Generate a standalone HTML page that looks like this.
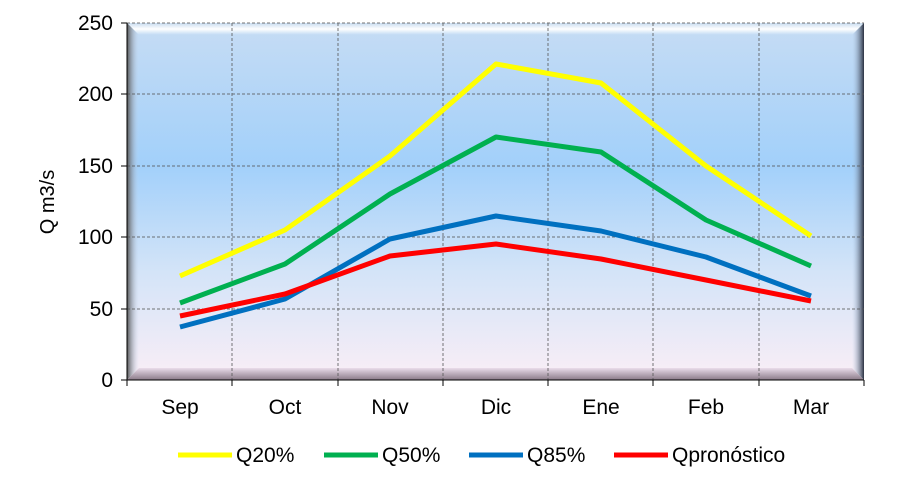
<!DOCTYPE html><html><head><style>body{margin:0;background:#fff}svg{display:block;font-family:"Liberation Sans",Arial,sans-serif}</style></head><body>
<svg width="907" height="487" viewBox="0 0 907 487">
<defs>
<linearGradient id="bg" x1="0" y1="0" x2="0" y2="1">
<stop offset="0" stop-color="#c6dcf4"/><stop offset="0.4" stop-color="#a2d0fa"/><stop offset="0.7" stop-color="#d4e4f8"/><stop offset="1" stop-color="#faeef6"/></linearGradient>
<linearGradient id="lw" x1="0" y1="0" x2="1" y2="0"><stop offset="0" stop-color="#555"/><stop offset="1" stop-color="#c8d8ee" stop-opacity="0"/></linearGradient>
<linearGradient id="rw" x1="0" y1="0" x2="1" y2="0"><stop offset="0" stop-color="#b0c8e4" stop-opacity="0"/><stop offset="1" stop-color="#2a3040"/></linearGradient>
<linearGradient id="tw" x1="0" y1="0" x2="0" y2="1"><stop offset="0" stop-color="#c8dcf0"/><stop offset="0.5" stop-color="#ffffff"/><stop offset="1" stop-color="#c0daf4"/></linearGradient>
<linearGradient id="bw" x1="0" y1="0" x2="0" y2="1"><stop offset="0" stop-color="#eadcea"/><stop offset="1" stop-color="#8a7a88"/></linearGradient>
</defs>
<rect x="127" y="23" width="737" height="357" fill="url(#bg)"/>
<polygon points="127,23 864,23 852,35 139,35" fill="url(#tw)"/>
<polygon points="127,23 139,35 139,368 127,380" fill="url(#lw)"/>
<polygon points="864,23 852,35 852,368 864,380" fill="url(#rw)"/>
<polygon points="127,380 139,368 852,368 864,380" fill="url(#bw)"/>
<g stroke="#555" stroke-width="1" stroke-dasharray="3,2" opacity="0.8">
<line x1="127" y1="23" x2="864" y2="23"/><line x1="127" y1="94" x2="864" y2="94"/><line x1="127" y1="166" x2="864" y2="166"/><line x1="127" y1="237" x2="864" y2="237"/><line x1="127" y1="309" x2="864" y2="309"/>
<line x1="232" y1="23" x2="232" y2="380"/><line x1="338" y1="23" x2="338" y2="380"/><line x1="443" y1="23" x2="443" y2="380"/><line x1="548" y1="23" x2="548" y2="380"/><line x1="653" y1="23" x2="653" y2="380"/><line x1="759" y1="23" x2="759" y2="380"/>
</g>
<g stroke="#000" stroke-width="1">
<line x1="127" y1="23" x2="127" y2="380"/><line x1="121" y1="380" x2="864" y2="380"/>
<line x1="121" y1="23" x2="127" y2="23"/><line x1="121" y1="94" x2="127" y2="94"/><line x1="121" y1="166" x2="127" y2="166"/><line x1="121" y1="237" x2="127" y2="237"/><line x1="121" y1="309" x2="127" y2="309"/>
<line x1="127" y1="380" x2="127" y2="386"/><line x1="232" y1="380" x2="232" y2="386"/><line x1="338" y1="380" x2="338" y2="386"/><line x1="443" y1="380" x2="443" y2="386"/><line x1="548" y1="380" x2="548" y2="386"/><line x1="653" y1="380" x2="653" y2="386"/><line x1="759" y1="380" x2="759" y2="386"/><line x1="864" y1="380" x2="864" y2="386"/>
</g>
<g font-size="21" text-anchor="end">
<text x="113" y="30">250</text><text x="113" y="101">200</text><text x="113" y="173">150</text><text x="113" y="244">100</text><text x="113" y="316">50</text><text x="113" y="387">0</text></g>
<g font-size="21" text-anchor="middle">
<text x="180" y="414">Sep</text><text x="285" y="414">Oct</text><text x="390" y="414">Nov</text><text x="496" y="414">Dic</text><text x="601" y="414">Ene</text><text x="706" y="414">Feb</text><text x="811" y="414">Mar</text></g>
<text transform="translate(54,202) rotate(-90)" font-size="20" text-anchor="middle">Q m3/s</text>
<g fill="none" stroke-width="5" stroke-linejoin="round">
<polyline stroke="#ffff00" points="180,276 285,230 390,156 496,64 601,83 706,166 811,236"/>
<polyline stroke="#00b050" points="180,303 285,264 390,194 496,137 601,152 706,220 811,266"/>
<polyline stroke="#0070c0" points="180,327 285,299 390,239 496,216 601,231 706,257 811,296"/>
<polyline stroke="#ff0000" points="180,316 285,294 390,256 496,244 601,259 706,280 811,301"/>
</g>
<g stroke-width="5">
<line x1="178" y1="455" x2="232" y2="455" stroke="#ffff00"/>
<line x1="324" y1="455" x2="378" y2="455" stroke="#00b050"/>
<line x1="469" y1="455" x2="523" y2="455" stroke="#0070c0"/>
<line x1="614" y1="455" x2="668" y2="455" stroke="#ff0000"/>
</g>
<g font-size="21"><text x="236" y="462">Q20%</text><text x="382" y="462">Q50%</text><text x="527" y="462">Q85%</text><text x="672" y="462">Qpronóstico</text></g>
</svg></body></html>
